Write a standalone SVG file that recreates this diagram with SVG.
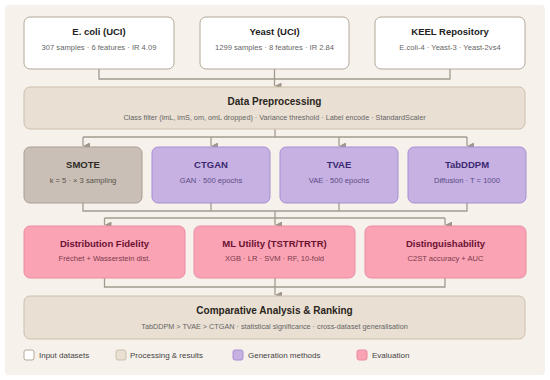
<svg xmlns="http://www.w3.org/2000/svg" width="550" height="380" viewBox="0 0 550 380">
<defs>
<marker id="arr" viewBox="0 0 8 8" refX="4" refY="8" markerWidth="7" markerHeight="7" markerUnits="userSpaceOnUse" orient="auto-start-reverse">
<path d="M0,0 L8,0 L4,8 Z" fill="#9e968a"/>
</marker>
<style>
text{font-family:"Liberation Sans",Arial,sans-serif;text-anchor:middle}
.t{font-size:9.5px;font-weight:bold;fill:#222}
.s{font-size:7.6px;fill:#666}
.w{font-size:7.25px}
.T{font-size:10px;font-weight:bold;fill:#2a2520}
.in{fill:#ffffff;stroke:#b3a899;stroke-width:1}
.pr{fill:#e9dfd2;stroke:#cdbfad;stroke-width:1}
.sm{fill:#c9bfb6;stroke:#a99f95;stroke-width:1}
.ge{fill:#c6b1e2;stroke:#a58ed2;stroke-width:1}
.ev{fill:#f9a3b4;stroke:#eb8ca2;stroke-width:1}
.gt{fill:#3a2870}.gs{fill:#5b4a84}
.et{fill:#6b1232}.es{fill:#7d3a4c}
.c{fill:none;stroke:#a39b8f;stroke-width:1.3}
.lg{font-size:8px;fill:#444;text-anchor:start}
</style>
</defs>
<rect x="0" y="0" width="550" height="380" fill="#ffffff"/>
<rect x="5" y="5" width="540" height="370" rx="4" fill="#f7f1eb"/>

<g id="connectors">
<path class="c" d="M99,69 V79 H450 V69"/>
<path class="c" d="M274.5,69 V86" marker-end="url(#arr)"/>
<path class="c" d="M275,129 V137"/>
<path class="c" d="M83,137 H467"/>
<path class="c" d="M83,137 V146" marker-end="url(#arr)"/>
<path class="c" d="M211,137 V146" marker-end="url(#arr)"/>
<path class="c" d="M339,137 V146" marker-end="url(#arr)"/>
<path class="c" d="M467,137 V146" marker-end="url(#arr)"/>
<path class="c" d="M83,203 V211 H467 V203"/>
<path class="c" d="M211,203 V211"/>
<path class="c" d="M339,203 V211"/>
<path class="c" d="M104.5,218 H445"/>
<path class="c" d="M104.5,218 V225" marker-end="url(#arr)"/>
<path class="c" d="M275,211 V225" marker-end="url(#arr)"/>
<path class="c" d="M445,218 V225" marker-end="url(#arr)"/>
<path class="c" d="M104.5,278 V287 H445 V278"/>
<path class="c" d="M275,278 V295" marker-end="url(#arr)"/>
</g>

<g id="ecoli">
<rect class="in" x="24" y="17" width="150" height="52" rx="6"/>
<text class="t" x="99" y="35">E. coli (UCI)</text>
<text class="s" x="99" y="49.5">307 samples · 6 features · IR 4.09</text>
</g>
<g id="yeast">
<rect class="in" x="200" y="17" width="149" height="52" rx="6"/>
<text class="t" x="274.5" y="35">Yeast (UCI)</text>
<text class="s" x="274.5" y="49.5">1299 samples · 8 features · IR 2.84</text>
</g>
<g id="keel">
<rect class="in" x="375" y="17" width="150" height="52" rx="6"/>
<text class="t" x="450" y="35">KEEL Repository</text>
<text class="s" x="450" y="49.5">E.coli-4 · Yeast-3 · Yeast-2vs4</text>
</g>

<g id="preprocessing">
<rect class="pr" x="24" y="87" width="501" height="42" rx="6"/>
<text class="T" x="274.5" y="105">Data Preprocessing</text>
<text class="s w" x="274.5" y="120">Class filter (imL, imS, om, omL dropped) · Variance threshold · Label encode · StandardScaler</text>
</g>

<g id="smote">
<rect class="sm" x="24" y="147" width="118" height="56" rx="6"/>
<text class="t" x="83" y="168" style="fill:#2e2a26">SMOTE</text>
<text class="s" x="83" y="183" style="fill:#5a534c">k = 5 · × 3 sampling</text>
</g>
<g id="ctgan">
<rect class="ge" x="152" y="147" width="118" height="56" rx="6"/>
<text class="t gt" x="211" y="168">CTGAN</text>
<text class="s gs" x="211" y="183">GAN · 500 epochs</text>
</g>
<g id="tvae">
<rect class="ge" x="280" y="147" width="118" height="56" rx="6"/>
<text class="t gt" x="339" y="168">TVAE</text>
<text class="s gs" x="339" y="183">VAE · 500 epochs</text>
</g>
<g id="tabddpm">
<rect class="ge" x="408" y="147" width="118" height="56" rx="6"/>
<text class="t gt" x="467" y="168">TabDDPM</text>
<text class="s gs" x="467" y="183">Diffusion · T = 1000</text>
</g>

<g id="fidelity">
<rect class="ev" x="24" y="226" width="161" height="52" rx="6"/>
<text class="t et" x="104.5" y="247">Distribution Fidelity</text>
<text class="s es" x="104.5" y="261">Fréchet + Wasserstein dist.</text>
</g>
<g id="utility">
<rect class="ev" x="194" y="226" width="161" height="52" rx="6"/>
<text class="t et" x="274.5" y="247">ML Utility (TSTR/TRTR)</text>
<text class="s es" x="274.5" y="261">XGB · LR · SVM · RF, 10-fold</text>
</g>
<g id="distinguish">
<rect class="ev" x="365" y="226" width="161" height="52" rx="6"/>
<text class="t et" x="445.5" y="247">Distinguishability</text>
<text class="s es" x="445.5" y="261">C2ST accuracy + AUC</text>
</g>

<g id="comparative">
<rect class="pr" x="24" y="296" width="501" height="43" rx="6"/>
<text class="T" x="274.5" y="314">Comparative Analysis &amp; Ranking</text>
<text class="s w" x="274.5" y="328.5">TabDDPM &gt; TVAE &gt; CTGAN · statistical significance · cross-dataset generalisation</text>
</g>

<g id="legend">
<rect class="in" x="24" y="350" width="10" height="10" rx="2"/>
<text class="lg" x="39" y="358">Input datasets</text>
<rect class="pr" x="116" y="350" width="10" height="10" rx="2"/>
<text class="lg" x="130" y="358">Processing &amp; results</text>
<rect class="ge" x="233" y="350" width="10" height="10" rx="2"/>
<text class="lg" x="248" y="358">Generation methods</text>
<rect class="ev" x="357" y="350" width="10" height="10" rx="2"/>
<text class="lg" x="372" y="358">Evaluation</text>
</g>
</svg>
